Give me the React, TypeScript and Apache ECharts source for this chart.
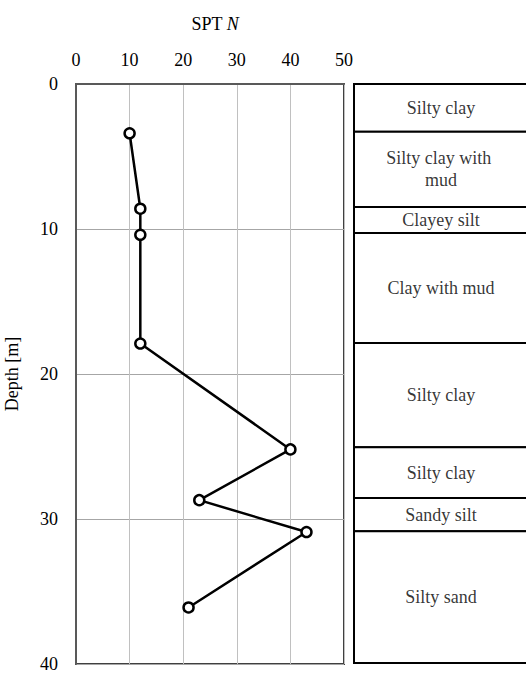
import React, { useEffect, useRef } from "react";
import * as echarts from "echarts";

const sptN = [10, 12, 12, 12, 40, 23, 43, 21];
const sptDepth = [3.4, 8.6, 10.4, 17.9, 25.2, 28.7, 30.9, 36.1];

const layerTop = [0, 3.3, 8.5, 10.3, 17.9, 25.1, 28.6, 30.9];
const layerBottom = [3.3, 8.5, 10.3, 17.9, 25.1, 28.6, 30.9, 40];
const layerNames = [
  "Silty clay",
  "Silty clay with mud",
  "Clayey silt",
  "Clay with mud",
  "Silty clay",
  "Silty clay",
  "Sandy silt",
  "Silty sand",
];

const xTicks = [0, 10, 20, 30, 40, 50];
const yTicks = [0, 10, 20, 30, 40];

const FONT = "Liberation Serif";

export default function App() {
  const ref = useRef<HTMLDivElement>(null);
  useEffect(() => {
    if (!ref.current) return;
    const chart = echarts.init(ref.current, null, { renderer: "svg" });
    const lineData = sptN.map((n, i) => [n, sptDepth[i]]);
    const layerData = layerNames.map((name, i) => [layerTop[i], layerBottom[i], name]);
    const labelData = layerNames.map((name, i) => ({
      value: [0.5, (layerTop[i] + layerBottom[i]) / 2],
      name,
    }));
    chart.setOption({
      animation: false,
      backgroundColor: "#ffffff",
      textStyle: { fontFamily: FONT },
      title: {
        text: "SPT {i|N}",
        left: 210,
        textAlign: "center",
        top: 10,
        textStyle: {
          fontFamily: FONT,
          fontSize: 18,
          fontWeight: "normal",
          color: "#000",
          rich: {
            i: { fontFamily: FONT, fontSize: 18, fontStyle: "italic", color: "#000" },
          },
        },
      },
      grid: [
        {
          left: 76,
          top: 84,
          width: 268,
          height: 580,
          show: true,
          borderColor: "#404040",
          borderWidth: 2,
          backgroundColor: "transparent",
          containLabel: false,
          outerBoundsMode: "none",
        },
        {
          left: 354,
          top: 84,
          width: 174,
          height: 579,
          containLabel: false,
          outerBoundsMode: "none",
        },
      ],
      xAxis: [
        {
          gridIndex: 0,
          type: "value",
          position: "top",
          min: xTicks[0],
          max: xTicks[xTicks.length - 1],
          interval: 10,
          axisLine: { show: true, lineStyle: { color: "#595959", width: 2 } },
          axisTick: { show: false },
          axisLabel: { fontFamily: FONT, fontSize: 18, color: "#000", margin: 15 },
          splitLine: { show: true, lineStyle: { color: "#c0c0c0", width: 1 } },
        },
        {
          gridIndex: 1,
          type: "value",
          min: 0,
          max: 1,
          show: false,
        },
      ],
      yAxis: [
        {
          gridIndex: 0,
          type: "value",
          inverse: true,
          min: yTicks[0],
          max: yTicks[yTicks.length - 1],
          interval: 10,
          name: "Depth [m]",
          nameLocation: "middle",
          nameGap: 55,
          nameRotate: 90,
          nameTextStyle: { fontFamily: FONT, fontSize: 18, color: "#000" },
          axisLine: { show: true, lineStyle: { color: "#595959", width: 2 } },
          axisTick: { show: false },
          axisLabel: { fontFamily: FONT, fontSize: 18, color: "#000", margin: 18 },
          splitLine: { show: true, lineStyle: { color: "#a6a6a6", width: 1 } },
        },
        {
          gridIndex: 1,
          type: "value",
          inverse: true,
          min: 0,
          max: 40,
          show: false,
        },
      ],
      series: [
        {
          type: "line",
          xAxisIndex: 0,
          yAxisIndex: 0,
          data: lineData,
          symbol: "circle",
          symbolSize: 10,
          lineStyle: { color: "#000", width: 2.5 },
          itemStyle: { color: "#fff", borderColor: "#000", borderWidth: 2.5 },
          z: 5,
        },
        {
          type: "custom",
          xAxisIndex: 1,
          yAxisIndex: 1,
          data: layerData,
          renderItem: (params: any, api: any) => {
            const p1 = api.coord([0, api.value(0)]);
            const p2 = api.coord([1, api.value(1)]);
            return {
              type: "rect",
              shape: { x: p1[0], y: p1[1], width: p2[0] - p1[0], height: p2[1] - p1[1] },
              style: { fill: "#fff", stroke: "#000", lineWidth: 2 },
            };
          },
          z: 2,
        },
        {
          type: "scatter",
          xAxisIndex: 1,
          yAxisIndex: 1,
          data: labelData,
          symbolSize: 0,
          silent: true,
          z: 3,
          label: {
            show: true,
            position: "inside",
            formatter: (p: any) => p.name,
            fontFamily: FONT,
            fontSize: 18,
            color: "#000",
            width: 135,
            overflow: "break",
            lineHeight: 22,
            align: "center",
            verticalAlign: "middle",
          },
        },
      ],
    });
    return () => chart.dispose();
  }, []);
  return (
    <div
      ref={ref}
      style={{ position: "fixed", left: 0, top: 0, width: 526, height: 674 }}
    />
  );
}
